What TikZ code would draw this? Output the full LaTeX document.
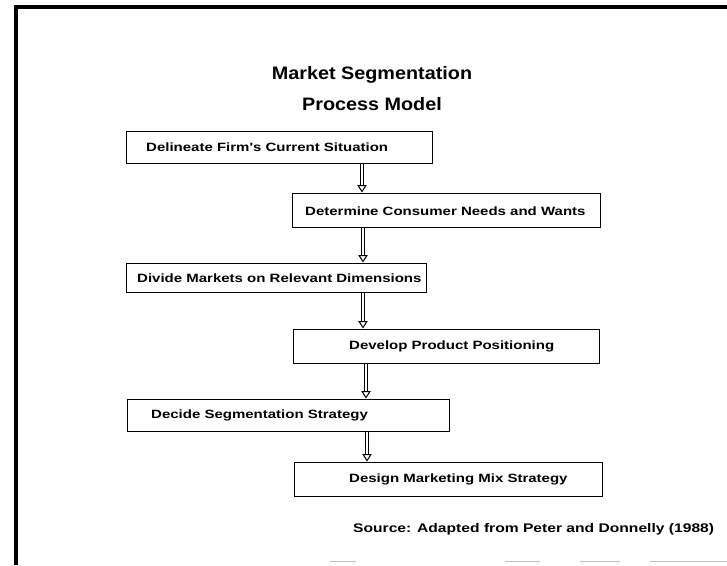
\documentclass[tikz,border=0pt]{standalone}
\usepackage{fontspec}
\usetikzlibrary{arrows.meta}
\setmainfont{Liberation Sans}
\newfontfamily\stepfont[FakeStretch=1.25]{Liberation Sans}
\newfontfamily\headfont[FakeStretch=1.1]{Liberation Sans}

% one downward flow arrow: double shaft plus open triangular head
\newcommand\flowarrow[3]{%
  \draw[shaft] (#1.south -| #3) -- ([yshift=7.5pt]#2.north -| #3);
  \draw[flowtip] ([yshift=7.5pt]#2.north -| #3) -- (#2.north -| #3);
}

\begin{document}
\begin{tikzpicture}[x=1pt,y=-1pt,
  stepbox/.style={draw, line width=1pt, inner sep=0pt},
  steptext/.style={anchor=west, inner sep=0pt, font=\stepfont\bfseries\fontsize{12}{14}\selectfont},
  shaft/.style={draw, line width=1pt, double, double distance=2.4pt},
  flowtip/.style={line width=1pt, -{Triangle[open, length=7.5pt, width=9.5pt]}},
  frame/.style={line width=3.2pt, line cap=butt}
]
\useasboundingbox (0,0) rectangle (727,565);

% page frame
\coordinate (ftl) at (16,7);
\coordinate (ftr) at (727,7);
\coordinate (fbl) at (16,565);
\draw[frame] (ftr) -- (ftl) -- (fbl);
\draw[black!25, line width=1pt] (330,561) -- (356,561) (505,561) -- (540,561)
  (580,561) -- (620,561) (650,561) -- (727,561);

% title
\node[font=\headfont\bfseries\fontsize{18}{22}\selectfont] (title1) at (372,75) {Market Segmentation};
\node[font=\headfont\bfseries\fontsize{18}{22}\selectfont] (title2) at (372,104) {Process Model};

% process boxes
\node[stepbox, minimum width=306pt, minimum height=32pt] (b1) at (279,147) {};
\node[stepbox, minimum width=308pt, minimum height=34pt] (b2) at (446,210) {};
\node[stepbox, minimum width=300pt, minimum height=29pt] (b3) at (276,277.5) {};
\node[stepbox, minimum width=306pt, minimum height=34pt] (b4) at (446,346) {};
\node[stepbox, minimum width=322pt, minimum height=32pt] (b5) at (288,415) {};
\node[stepbox, minimum width=308pt, minimum height=34pt] (b6) at (448,479) {};

% box labels
\node[steptext] (t1) at (146,147) {Delineate Firm's Current Situation};
\node[steptext] (t2) at (305,211) {Determine Consumer Needs and Wants};
\node[steptext] (t3) at (137,278) {Divide Markets on Relevant Dimensions};
\node[steptext] (t4) at (349,346) {Develop Product Positioning};
\node[steptext] (t5) at (151,415) {Decide Segmentation Strategy};
\node[steptext] (t6) at (349,479) {Design Marketing Mix Strategy};

% arrow columns
\coordinate (c1) at (362,0);
\coordinate (c2) at (363,0);
\coordinate (c3) at (363,0);
\coordinate (c4) at (366,0);
\coordinate (c5) at (367,0);

\flowarrow{b1}{b2}{c1}
\flowarrow{b2}{b3}{c2}
\flowarrow{b3}{b4}{c3}
\flowarrow{b4}{b5}{c4}
\flowarrow{b5}{b6}{c5}

% source note
\node[anchor=west, inner sep=0pt, font=\stepfont\bfseries\fontsize{12.5}{15}\selectfont] (src) at (353,529)
  {Source: Adapted from Peter and Donnelly (1988)};
\end{tikzpicture}
\end{document}
